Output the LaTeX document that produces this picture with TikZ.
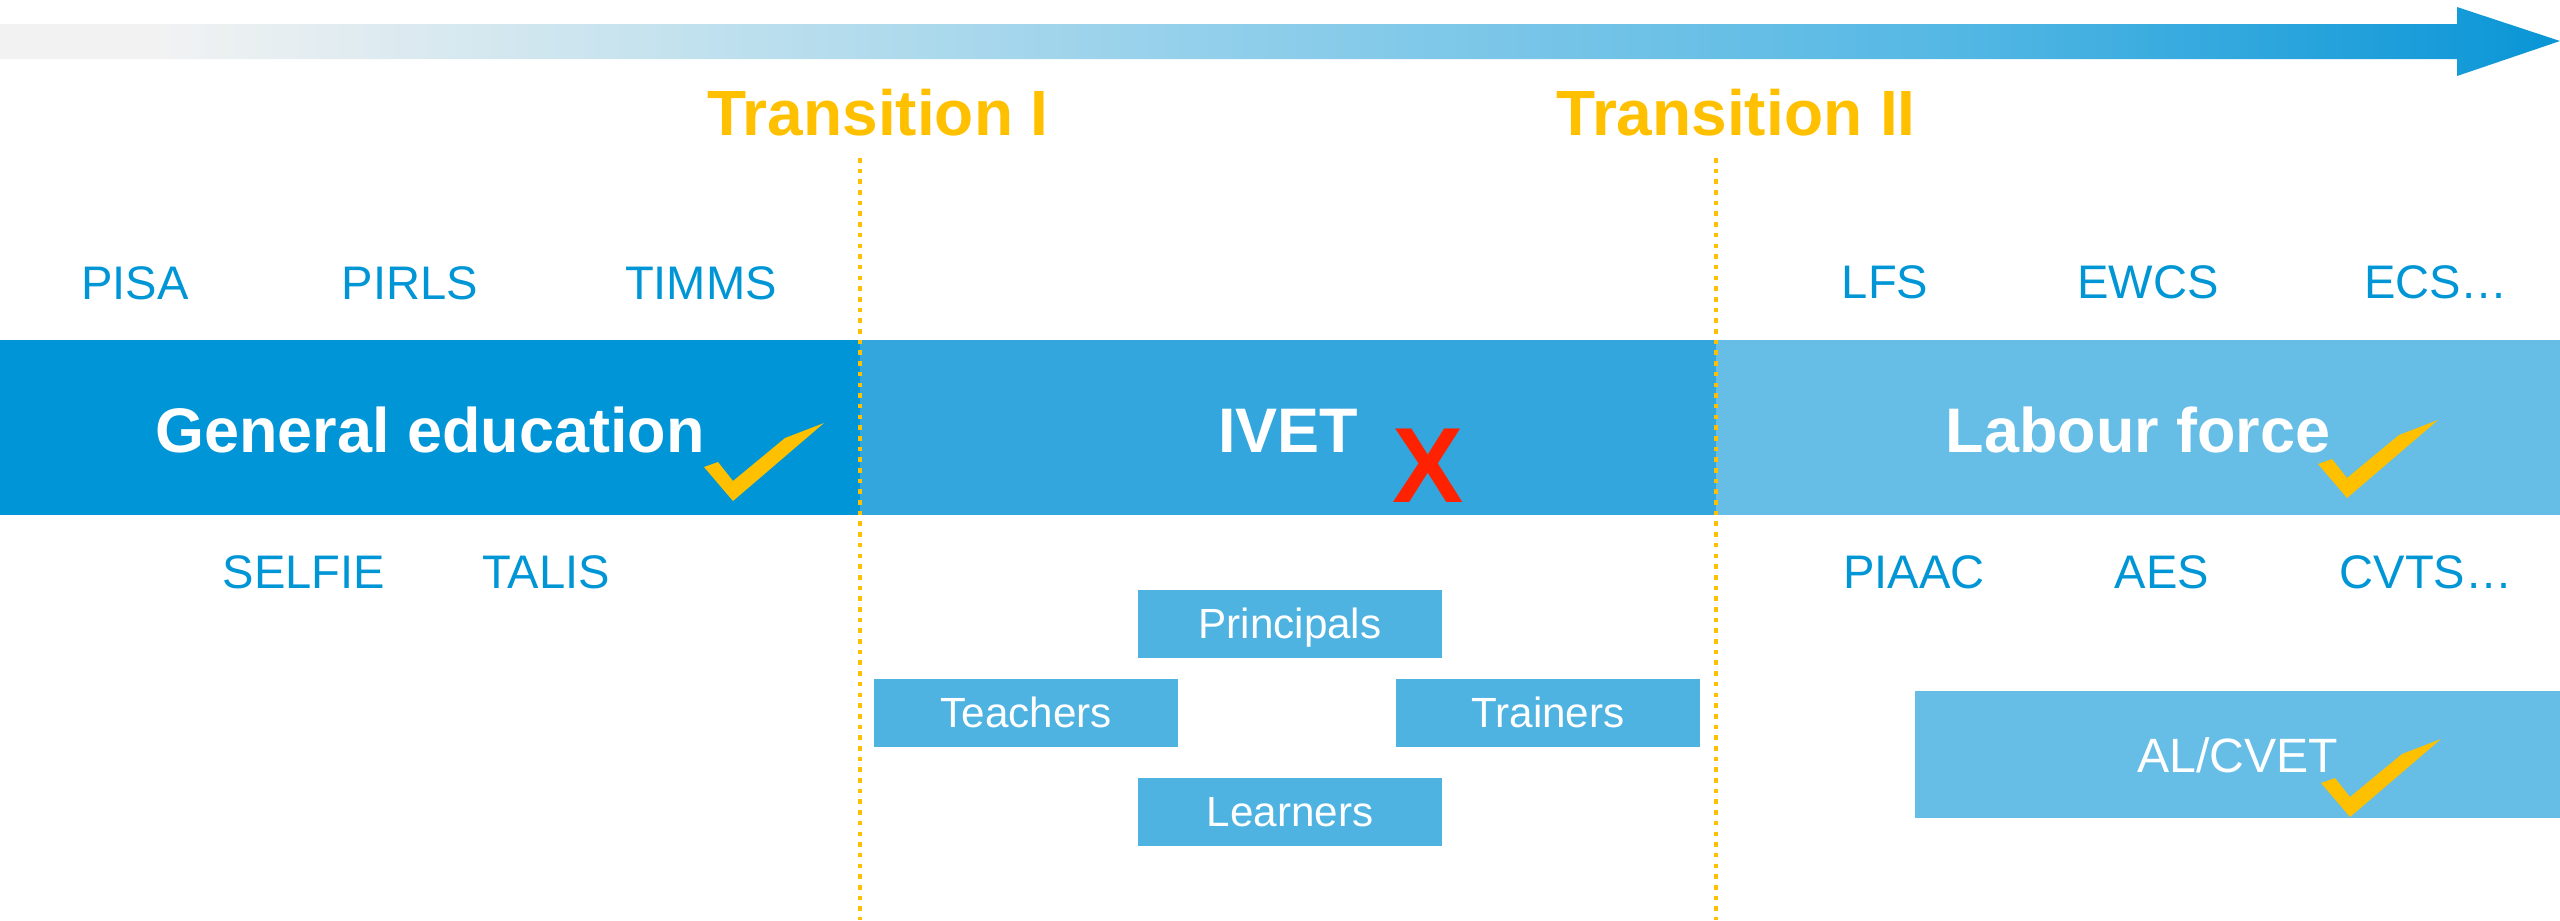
\documentclass[tikz,border=0pt]{standalone}
\usepackage{fontspec}
\setmainfont{Liberation Sans}
\usetikzlibrary{positioning}

\definecolor{genblue}{HTML}{0095D7}
\definecolor{ivetblue}{HTML}{33A7DD}
\definecolor{labblue}{HTML}{66BDE6}
\definecolor{boxblue}{HTML}{4FB3E2}
\definecolor{surveyblue}{HTML}{0096D6}
\definecolor{transorange}{HTML}{FFC000}
\definecolor{crossred}{HTML}{FF2200}
\definecolor{tlgray}{HTML}{F2F2F2}
\definecolor{tllight}{HTML}{C4E2EE}
\definecolor{tlmid}{HTML}{8CCDEA}
\definecolor{tlstrong}{HTML}{55B8E4}
\definecolor{tlend}{HTML}{0995D6}
\pgfdeclarehorizontalshading{timeline}{100bp}{color(0bp)=(tlgray); color(28bp)=(tlgray); color(38bp)=(tllight); color(50bp)=(tlmid); color(63bp)=(tlstrong); color(75bp)=(tlend); color(100bp)=(tlend)}

\begin{document}
\begin{tikzpicture}[x=0.01cm,y=-0.01cm,
    band/.style={rectangle,inner sep=0pt,minimum height=1.75cm,text=white,
                 font=\fontsize{17.9pt}{20pt}\selectfont\bfseries,text height=14pt,text depth=0pt},
    survey/.style={text=surveyblue,inner sep=0pt,anchor=base,font=\fontsize{13.4pt}{15pt}\selectfont},
    role/.style={rectangle,fill=boxblue,inner sep=0pt,minimum width=3.03cm,minimum height=0.68cm,
                 text=white,font=\fontsize{12pt}{14pt}\selectfont,text height=8.5pt,text depth=0pt},
    transition/.style={text=transorange,inner sep=0pt,anchor=base,font=\fontsize{18.2pt}{20pt}\selectfont\bfseries},
    divider/.style={transorange,line width=1.3pt,dash pattern=on 1.3pt off 1.74pt},
    checkmark/.pic={\fill[transorange] (0,0) -- (-29,-34) -- (-15,-39) -- (0,-20) -- (52,-63) -- (91,-78) -- cycle;}]
  \useasboundingbox (0,0) rectangle (2560,920);

  % time arrow
  \shade[shading=timeline] (0,24) -- (2457,24) -- (2457,7) -- (2560,41) -- (2457,76) -- (2457,59) -- (0,59) -- cycle;

  \node[transition] (trans1) at (878,135) {Transition I};
  \node[transition] (trans2) at (1736,135) {Transition II};

  % stages
  \node[band,fill=genblue,minimum width=8.6cm] (gen) at (430,427.5) {General education};
  \node[band,fill=ivetblue,minimum width=8.56cm] (ivet) at (1288,427.5) {IVET};
  \node[band,fill=labblue,minimum width=8.44cm] (lab) at (2138,427.5) {Labour force};

  \coordinate (d1top) at (860,158);  \coordinate (d1bot) at (860,920);
  \coordinate (d2top) at (1716,158); \coordinate (d2bot) at (1716,920);
  \draw[divider] (d1top) -- (d1bot);
  \draw[divider] (d2top) -- (d2bot);

  \pic at (733,501) {checkmark};
  \pic at (2347,498) {checkmark};
  \node[text=crossred,anchor=base,inner sep=0pt,font=\fontsize{30.4pt}{32pt}\selectfont\bfseries] (cross) at (1428,502) {X};

  % surveys
  \node[survey] (pisa)   at (135,299)  {PISA};
  \node[survey] (pirls)  at (410,299)  {PIRLS};
  \node[survey] (timms)  at (701,299)  {TIMMS};
  \node[survey] (lfs)    at (1885,298) {LFS};
  \node[survey] (ewcs)   at (2148,298) {EWCS};
  \node[survey] (ecs)    at (2436,298) {ECS…};
  \node[survey] (selfie) at (304,588)  {SELFIE};
  \node[survey] (talis)  at (546,588)  {TALIS};
  \node[survey] (piaac)  at (1914,588) {PIAAC};
  \node[survey] (aes)    at (2162,588) {AES};
  \node[survey] (cvts)   at (2426,588) {CVTS…};

  % IVET actors
  \node[role] (principals) at (1290,624) {Principals};
  \node[role] (teachers) at (1026,713) {Teachers};
  \node[role] (trainers) at (1548,713) {Trainers};
  \node[role,below=1.18cm of principals] (learners) {Learners};

  \node[role,fill=labblue,minimum width=6.45cm,minimum height=1.27cm,
        font=\fontsize{13.7pt}{15pt}\selectfont,text height=10.5pt] (alcvet) at (2237.5,754.5) {AL/CVET};
  \pic at (2350,817) {checkmark};
\end{tikzpicture}
\end{document}
